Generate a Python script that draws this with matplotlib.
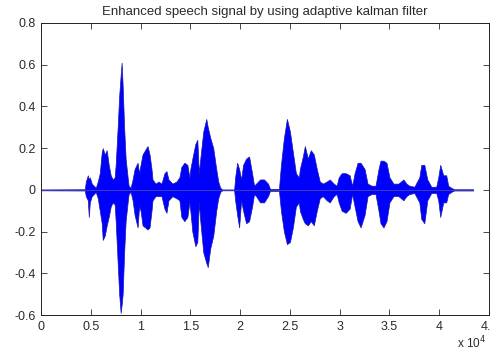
import matplotlib
matplotlib.use('Agg')
from matplotlib import pyplot as plt


TITLE = 'Enhanced speech signal by using adaptive kalman filter'

# envelope of the waveform: sample index, upper, lower
env_x = [0, 4400, 4500, 4700, 4800, 4900, 5100, 5300, 5500,
         5700, 5900, 6100, 6200, 6400, 6600, 6800, 7000, 7200, 7400,
         7500, 7700, 7850, 8000, 8100, 8200, 8350, 8500, 8700, 8800, 9000,
         9200, 9400, 9700, 9850,
         10000, 10200, 10700, 10900, 11100, 11200,
         11500, 11800, 12100, 12400, 12600, 12800,
         13200, 13600, 13900, 14100, 14400, 14700, 14900,
         15000, 15200, 15500, 15700, 15850, 16000, 16300, 16600, 16750,
         17000, 17300, 17600, 17800, 18000, 18200, 19400,
         19500, 19700, 19900, 20100, 20300, 20600, 20900, 21200, 21400,
         21600, 22000, 22400, 22800, 23000, 23900,
         24100, 24400, 24700, 25000, 25300, 25600, 25900,
         26000, 26300, 26500, 26800, 27100, 27400, 27700, 28000,
         28300, 28700, 29000, 29400, 29700,
         29900, 30200, 30600, 31000, 31250,
         31500, 31800, 32100, 32500, 32800, 33200, 33600,
         33900, 34100, 34400, 34700, 35000,
         35400, 35900, 36400, 36700, 37000, 37500,
         38000, 38200, 38500, 38800, 39200, 39700,
         39900, 40100, 40400, 40700, 40900, 41200, 41500, 43400]
env_hi = [0.002, 0.003, 0.04, 0.07, 0.05, 0.06, 0.03, 0.02, 0.01,
          0.04, 0.08, 0.18, 0.20, 0.17, 0.19, 0.12, 0.07, 0.05, 0.06,
          0.12, 0.30, 0.45, 0.55, 0.61, 0.50, 0.30, 0.15, 0.06, 0.02, 0.01,
          0.05, 0.10, 0.13, 0.08,
          0.12, 0.17, 0.21, 0.17, 0.10, 0.05,
          0.03, 0.04, 0.03, 0.08, 0.09, 0.05,
          0.03, 0.04, 0.06, 0.11, 0.13, 0.12, 0.06,
          0.10, 0.15, 0.22, 0.24, 0.08, 0.15, 0.28, 0.34, 0.30,
          0.25, 0.20, 0.10, 0.04, 0.01, 0.002, 0.002,
          0.06, 0.13, 0.10, 0.05, 0.12, 0.15, 0.16, 0.08, 0.02,
          0.03, 0.05, 0.05, 0.03, 0.005, 0.005,
          0.12, 0.25, 0.34, 0.28, 0.18, 0.08, 0.06,
          0.10, 0.16, 0.21, 0.15, 0.19, 0.17, 0.10, 0.04,
          0.03, 0.04, 0.05, 0.03, 0.02,
          0.06, 0.08, 0.08, 0.07, 0.02,
          0.08, 0.13, 0.13, 0.10, 0.03, 0.02, 0.02,
          0.10, 0.14, 0.14, 0.13, 0.06,
          0.03, 0.03, 0.05, 0.03, 0.02, 0.015,
          0.06, 0.12, 0.12, 0.05, 0.015, 0.015,
          0.06, 0.12, 0.07, 0.07, 0.02, 0.01, 0.003, 0.003]
env_lo = [-0.002, -0.003, -0.03, -0.05, -0.13, -0.06, -0.03, -0.02, -0.01,
          -0.04, -0.10, -0.16, -0.24, -0.22, -0.17, -0.13, -0.08, -0.06, -0.07,
          -0.15, -0.35, -0.50, -0.59, -0.55, -0.50, -0.30, -0.15, -0.06, -0.02, -0.01,
          -0.05, -0.12, -0.18, -0.08,
          -0.10, -0.17, -0.19, -0.18, -0.10, -0.05,
          -0.03, -0.03, -0.03, -0.09, -0.11, -0.05,
          -0.03, -0.04, -0.05, -0.13, -0.15, -0.13, -0.06,
          -0.10, -0.20, -0.27, -0.25, -0.06, -0.15, -0.30, -0.35, -0.37,
          -0.28, -0.22, -0.10, -0.04, -0.01, -0.002, -0.002,
          -0.05, -0.12, -0.18, -0.05, -0.10, -0.16, -0.15, -0.08, -0.02,
          -0.03, -0.06, -0.06, -0.03, -0.005, -0.005,
          -0.10, -0.20, -0.26, -0.25, -0.18, -0.08, -0.06,
          -0.10, -0.14, -0.16, -0.17, -0.15, -0.17, -0.10, -0.04,
          -0.03, -0.05, -0.06, -0.03, -0.02,
          -0.06, -0.10, -0.11, -0.09, -0.02,
          -0.08, -0.15, -0.18, -0.12, -0.03, -0.02, -0.02,
          -0.10, -0.16, -0.18, -0.15, -0.06,
          -0.03, -0.03, -0.05, -0.03, -0.02, -0.015,
          -0.06, -0.14, -0.16, -0.05, -0.015, -0.015,
          -0.05, -0.13, -0.06, -0.06, -0.02, -0.01, -0.003, -0.003]

x_ticks = [0, 5000, 10000, 15000, 20000, 25000, 30000, 35000, 40000, 45000]
x_labels = ['0', '0.5', '1', '1.5', '2', '2.5', '3', '3.5', '4', '4.5']
y_ticks = [-0.6, -0.4, -0.2, 0, 0.2, 0.4, 0.6, 0.8]
y_labels = ['-0.6', '-0.4', '-0.2', '0', '0.2', '0.4', '0.6', '0.8']

plt.rcParams['font.family'] = ['Liberation Sans', 'DejaVu Sans']

fig = plt.figure(figsize=(4.9, 3.52), dpi=100)
ax = fig.add_axes([0.0837, 0.105, 0.9143, 0.8297])

ax.plot([env_x[0], env_x[-1]], [0, 0], color='#3a3ab8', lw=0.8)
ax.fill_between(env_x, env_lo, env_hi, color='#0000ff',
                edgecolor='#1a1aa8', lw=0.5)

ax.set_xlim(0, 45000)
ax.set_ylim(-0.6, 0.8)
ax.set_xticks(x_ticks)
ax.set_xticklabels(x_labels)
ax.set_yticks(y_ticks)
ax.set_yticklabels(y_labels)
ax.tick_params(direction='in', top=True, right=True, length=4, width=0.6,
               labelsize=9, colors='#2a2a2a', pad=4)
for sp in ax.spines.values():
    sp.set_linewidth(0.7)
    sp.set_color('#222222')

ax.set_title(TITLE, fontsize=9.5, color='#2a2a2a', pad=6)
fig.text(0.962, 0.01, r'x 10$^{4}$', fontsize=8.5, color='#2a2a2a', ha='center')

fig.savefig('out.png', dpi=100)
